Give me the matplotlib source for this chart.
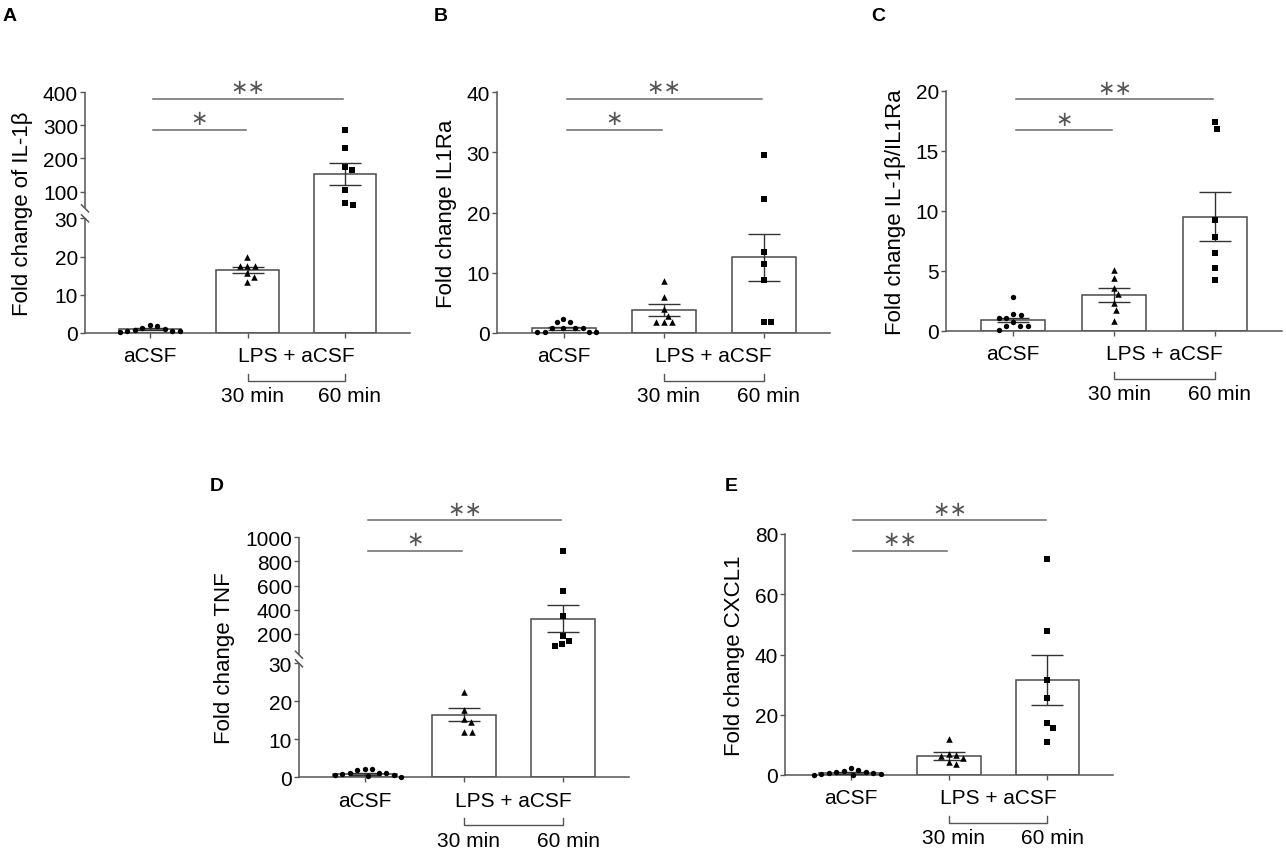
import numpy as np
import matplotlib
matplotlib.use("Agg")
import matplotlib.pyplot as plt
from matplotlib.transforms import blended_transform_factory

plt.rcParams['font.family'] = ['Liberation Sans', 'DejaVu Sans']

W, H = 1286, 853

# ---------------- data ----------------
groups = ["aCSF", "30 min", "60 min"]

A_acsf = [0.5, 1.3, 0.6, 1.1, 1.8, 0.3, 2.0, 0.7, 0.5]
A_30 = [20.0, 17.6, 17.6, 17.6, 15.6, 14.6, 13.4]
A_60 = [286, 232, 175, 166, 106, 60, 65]
A_mean = [1.0, 16.5, 153]
A_sem = [0.2, 0.85, 32]

B_acsf = [0.2, 0.8, 1.8, 0.8, 1.8, 0.8, 0.1, 2.4, 0.1, 0.8, 0.1]
B_30 = [8.7, 6.0, 4.0, 2.9, 1.8, 1.8, 1.8]
B_60 = [29.5, 22.3, 13.5, 11.5, 8.8, 1.8, 1.9]
B_mean = [0.8, 3.8, 12.6]
B_sem = [0.25, 0.95, 3.9]

C_acsf = [2.8, 1.4, 1.3, 1.1, 1.1, 0.7, 0.4, 0.4, 0.4, 0.1]
C_30 = [5.1, 4.4, 3.6, 3.05, 2.3, 1.7, 0.8]
C_60 = [17.4, 16.8, 9.2, 7.8, 6.5, 5.2, 4.2]
C_mean = [0.9, 3.0, 9.5]
C_sem = [0.2, 0.6, 2.05]

D_acsf = [2.2, 1.8, 1.1, 1.1, 2.2, 1.1, 0.4, 0.6, 0.5, 0.1, 0.9]
D_30 = [22.4, 17.8, 15.3, 14.5, 11.8, 11.8]
D_60 = [889, 553, 346, 186, 145, 98, 115]
D_mean = [0.9, 16.5, 325]
D_sem = [0.2, 1.8, 112]

E_acsf = [0.3, 1.7, 0.7, 1.4, 0.0, 1.1, 0.2, 0.7, 2.4, 0.1, 1.0]
E_30 = [11.9, 7.0, 6.6, 6.2, 5.5, 4.2, 3.7]
E_60 = [71.7, 47.9, 31.6, 25.7, 17.1, 15.5, 11.1]
E_mean = [0.7, 6.3, 31.5]
E_sem = [0.25, 1.3, 8.2]

A_ticks = [0, 10, 20, 30, 100, 200, 300, 400]
B_ticks = [0, 10, 20, 30, 40]
C_ticks = [0, 5, 10, 15, 20]
D_ticks = [0, 10, 20, 30, 200, 400, 600, 800, 1000]
E_ticks = [0, 20, 40, 60, 80]

A_sig = ["*", "**"]
B_sig = ["*", "**"]
C_sig = ["*", "**"]
D_sig = ["*", "**"]
E_sig = ["**", "**"]

# ---------------- style ----------------
FS = 15
AX_COL = '#555555'
BAR_EDGE = '#4a4a4a'
ERR_COL = '#333333'
SIG_COL = '#6a6a6a'
BAR_W = 0.64
XLIM = (-0.665, 2.665)
MARKERS = ['o', '^', 's']
MSIZE = [15, 22, 22]

fig = plt.figure(figsize=(W / 100, H / 100), dpi=100)


def px_axes(l, r, t, b):
    return fig.add_axes([l / W, 1 - b / H, (r - l) / W, (b - t) / H])


def swarm(ax, xc, vals, dmin=7.5):
    vals = np.asarray(vals, float)
    pts = ax.transData.transform(np.column_stack([np.full(len(vals), float(xc)), vals]))
    ys = pts[:, 1]
    x0 = pts[0, 0]
    order = np.argsort(-ys)
    placed = []
    offs = np.zeros(len(vals))
    for i in order:
        found = None
        for step in range(0, 400):
            for sgn in ((1,) if step == 0 else (1, -1)):
                dx = sgn * step * 0.5
                if all((dx - px) ** 2 + (ys[i] - py) ** 2 >= dmin ** 2 for px, py in placed):
                    found = dx
                    break
            if found is not None:
                break
        placed.append((found, ys[i]))
        offs[i] = found
    back = ax.transData.inverted().transform(np.column_stack([x0 + offs, ys]))
    return back[:, 0]


def panel(l, r, t, b, ylabel, ticks, top, pts_list, mean, sem, sig,
          sig_px, broken=None):
    ax = px_axes(l, r, t, b)
    wpx, hpx = r - l, b - t
    ax.set_xlim(*XLIM)
    if broken is not None:
        k, g, gap_px = broken

        def fwd(y):
            y = np.asarray(y, float)
            return np.where(y <= 30, y, 30 + g + (y - 30) * k)

        def inv(z):
            z = np.asarray(z, float)
            return np.where(z <= 30, z, np.where(z < 30 + g, 30.0, 30 + (z - 30 - g) / k))
        ax.set_yscale('function', functions=(fwd, inv))
    ax.set_ylim(0, top)

    for s in ['top', 'right']:
        ax.spines[s].set_visible(False)
    for s in ['bottom', 'left']:
        ax.spines[s].set_color(AX_COL)
        ax.spines[s].set_linewidth(1.1)

    ax.set_yticks(ticks)
    ax.set_yticklabels([str(v) for v in ticks])
    ax.set_xticks([0, 1, 2])
    ax.set_xticklabels([])
    ax.tick_params(axis='both', direction='out', length=3.5, width=1.0,
                   color=AX_COL, labelsize=FS, pad=1.5)
    ax.set_ylabel(ylabel, fontsize=16, labelpad=7)

    x = np.arange(3)
    ax.bar(x, mean, width=BAR_W, color='white', edgecolor=BAR_EDGE,
           linewidth=1.1, zorder=2)
    ax.errorbar(x, mean, yerr=sem, fmt='none', ecolor=ERR_COL, elinewidth=1.0,
                capsize=11.5, capthick=1.0, zorder=3)
    for i, vals in enumerate(pts_list):
        xs = swarm(ax, i, vals)
        ax.scatter(xs, vals, marker=MARKERS[i], s=MSIZE[i], color='black',
                   linewidths=0, zorder=4, clip_on=False)

    if broken is not None:
        ax.spines['left'].set_visible(False)
        ftop = float(fwd(top))
        lo = 30.0 / ftop
        hi = lo + gap_px / hpx
        ax.plot([0, 0], [0, lo], transform=ax.transAxes, color=AX_COL, lw=1.1,
                clip_on=False, solid_capstyle='butt')
        ax.plot([0, 0], [hi, 1], transform=ax.transAxes, color=AX_COL, lw=1.1,
                clip_on=False, solid_capstyle='butt')
        for yf in (lo, hi):
            ax.plot([-3.5 / wpx, 3.5 / wpx], [yf + 3.5 / hpx, yf - 3.5 / hpx],
                    transform=ax.transAxes, color=AX_COL, lw=1.1, clip_on=False)

    # significance bars
    bt = blended_transform_factory(ax.transData, ax.transAxes)
    for lab, ypx, xe in zip(sig, sig_px, [1, 2]):
        yf = (b - ypx) / hpx
        ax.plot([0.03, xe - 0.02], [yf, yf], transform=bt, color=SIG_COL, lw=1.1,
                clip_on=False)
        ax.text((0.03 + xe - 0.02) / 2, yf + 11.5 / hpx, lab.replace('*', '\u2217'),
                transform=bt, ha='center', va='center', fontsize=15,
                color='#555555', family=['DejaVu Sans'])

    # x-category labels
    def below(xd, px, text):
        ax.text(xd, -px / hpx, text, transform=bt, ha='center', va='center',
                fontsize=FS, clip_on=False)
    below(0, 23, groups[0])
    below(1.5, 23, "LPS + aCSF")
    yb = -48 / hpx
    ax.plot([1, 1, 2, 2], [yb + 7 / hpx, yb, yb, yb + 7 / hpx], transform=bt,
            color=AX_COL, lw=1.0, clip_on=False)
    below(1.05, 63, groups[1])
    below(2.05, 63, groups[2])
    return ax


def letter(xpx, ybase, s):
    fig.text(xpx / W, 1 - ybase / H, s, fontsize=14, fontweight='bold',
             ha='left', va='baseline')


panel(85, 410, 93.3, 334, 'Fold change of IL-1\u03b2', A_ticks, 400,
      [A_acsf, A_30, A_60], A_mean, A_sem, A_sig, [131, 100],
      broken=(0.0866, 0.94, 10))
panel(497, 830, 93.3, 334, 'Fold change IL1Ra', B_ticks, 40,
      [B_acsf, B_30, B_60], B_mean, B_sem, B_sig, [131, 100])
panel(946, 1282, 91.7, 331.7, 'Fold change IL-1\u03b2/IL1Ra', C_ticks, 20,
      [C_acsf, C_30, C_60], C_mean, C_sem, C_sig, [131, 100])
panel(299, 629, 538.3, 778.3, 'Fold change TNF', D_ticks, 1000,
      [D_acsf, D_30, D_60], D_mean, D_sem, D_sig, [551.7, 521],
      broken=(0.0318, 2.3, 8.5))
panel(785, 1113, 535, 776, 'Fold change CXCL1', E_ticks, 80,
      [E_acsf, E_30, E_60], E_mean, E_sem, E_sig, [551.7, 521])

letter(3, 21, 'A')
letter(434, 21, 'B')
letter(871, 21, 'C')
letter(210, 491, 'D')
letter(725, 491, 'E')

fig.savefig('out.png', dpi=100)
